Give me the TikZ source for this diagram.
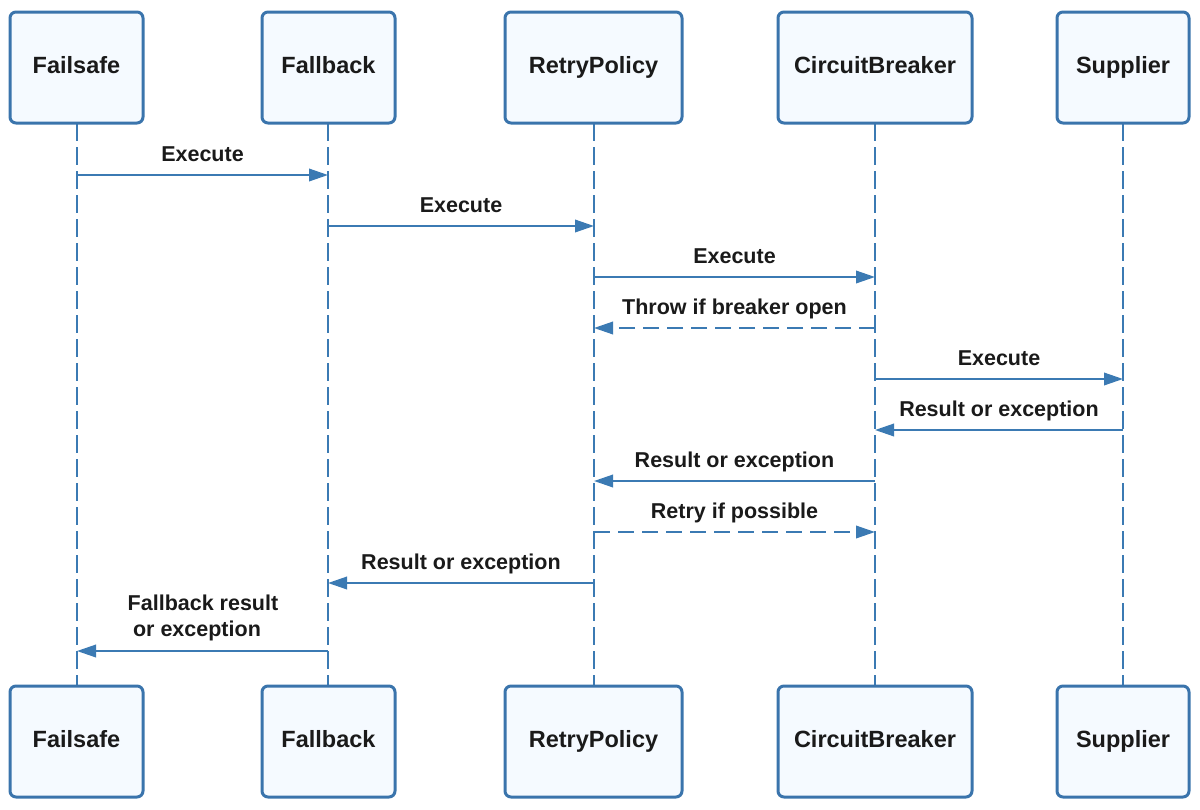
\documentclass[tikz,border=0pt]{standalone}
\usepackage{fontspec}
\setmainfont{Liberation Sans}
\usetikzlibrary{arrows.meta}
\definecolor{boxline}{HTML}{3A74AC}
\definecolor{boxfill}{HTML}{F5FAFF}
\definecolor{flow}{HTML}{3B7AB3}
\definecolor{txt}{HTML}{1A1A1A}
\tikzset{
  actor/.style={draw=boxline, line width=3pt, fill=boxfill, rounded corners=6pt,
    minimum height=111pt, inner sep=0pt, text=txt, text height=17pt, text depth=5pt,
    font=\fontsize{23.5}{28}\selectfont\bfseries},
  life/.style={draw=flow, line width=1.4pt, dash pattern=on 18pt off 6pt},
  msg/.style={draw=flow, line width=2pt, -{Triangle[length=19pt,width=12.5pt]}},
  ret/.style={msg, dash pattern=on 16pt off 8pt},
  lbl/.style={text=txt, font=\fontsize{21.5}{26}\selectfont\bfseries, inner sep=0pt,
    text height=15.5pt, text depth=4.5pt}
}
\begin{document}
\begin{tikzpicture}[x=1pt,y=-1pt]
\useasboundingbox (0,0) rectangle (1200,809);
% lifelines
\coordinate (la) at (77,123); \coordinate (lb) at (77,686);
\coordinate (lc) at (328,123); \coordinate (ld) at (328,686);
\coordinate (le) at (594,123); \coordinate (lf) at (594,686);
\coordinate (lg) at (875,123); \coordinate (lh) at (875,686);
\coordinate (li) at (1123,123); \coordinate (lj) at (1123,686);
\draw[life] (la) -- (lb);
\draw[life] (lc) -- (ld);
\draw[life] (le) -- (lf);
\draw[life] (lg) -- (lh);
\draw[life] (li) -- (lj);
% top boxes
\node[actor, minimum width=133pt] (tfs) at (76.5,67.5) {Failsafe};
\node[actor, minimum width=133pt] (tfb) at (328.5,67.5) {Fallback};
\node[actor, minimum width=177pt] (trp) at (593.5,67.5) {RetryPolicy};
\node[actor, minimum width=194pt] (tcb) at (875,67.5) {CircuitBreaker};
\node[actor, minimum width=132pt] (tsu) at (1123,67.5) {Supplier};
% bottom boxes
\node[actor, minimum width=133pt] (bfs) at (76.5,741.5) {Failsafe};
\node[actor, minimum width=133pt] (bfb) at (328.5,741.5) {Fallback};
\node[actor, minimum width=177pt] (brp) at (593.5,741.5) {RetryPolicy};
\node[actor, minimum width=194pt] (bcb) at (875,741.5) {CircuitBreaker};
\node[actor, minimum width=132pt] (bsu) at (1123,741.5) {Supplier};
% message endpoints
\coordinate (m1a) at (77,175);   \coordinate (m1b) at (328,175);
\coordinate (m2a) at (328,226);  \coordinate (m2b) at (594,226);
\coordinate (m3a) at (594,277);  \coordinate (m3b) at (875,277);
\coordinate (m4a) at (875,328);  \coordinate (m4b) at (594,328);
\coordinate (m5a) at (875,379);  \coordinate (m5b) at (1123,379);
\coordinate (m6a) at (1123,430); \coordinate (m6b) at (875,430);
\coordinate (m7a) at (875,481);  \coordinate (m7b) at (594,481);
\coordinate (m8a) at (594,532);  \coordinate (m8b) at (875,532);
\coordinate (m9a) at (594,583);  \coordinate (m9b) at (328,583);
\coordinate (m10a) at (328,651); \coordinate (m10b) at (77,651);
\draw[msg] (m1a) -- (m1b);
\draw[msg] (m2a) -- (m2b);
\draw[msg] (m3a) -- (m3b);
\draw[ret] (m4a) -- (m4b);
\draw[msg] (m5a) -- (m5b);
\draw[msg] (m6a) -- (m6b);
\draw[msg] (m7a) -- (m7b);
\draw[ret] (m8a) -- (m8b);
\draw[msg] (m9a) -- (m9b);
\draw[msg] (m10a) -- (m10b);
% labels
\node[lbl] (t1) at (202.5,156) {Execute};
\node[lbl] (t2) at (461,207) {Execute};
\node[lbl] (t3) at (734.5,258) {Execute};
\node[lbl] (t4) at (734.5,309) {Throw if breaker open};
\node[lbl] (t5) at (999,360) {Execute};
\node[lbl] (t6) at (999,411) {Result or exception};
\node[lbl] (t7) at (734.5,462) {Result or exception};
\node[lbl] (t8) at (734.5,513) {Retry if possible};
\node[lbl] (t9) at (461,564) {Result or exception};
\node[lbl] (t10a) at (203,605) {Fallback result};
\node[lbl] (t10b) at (197,631) {or exception};
\end{tikzpicture}
\end{document}
